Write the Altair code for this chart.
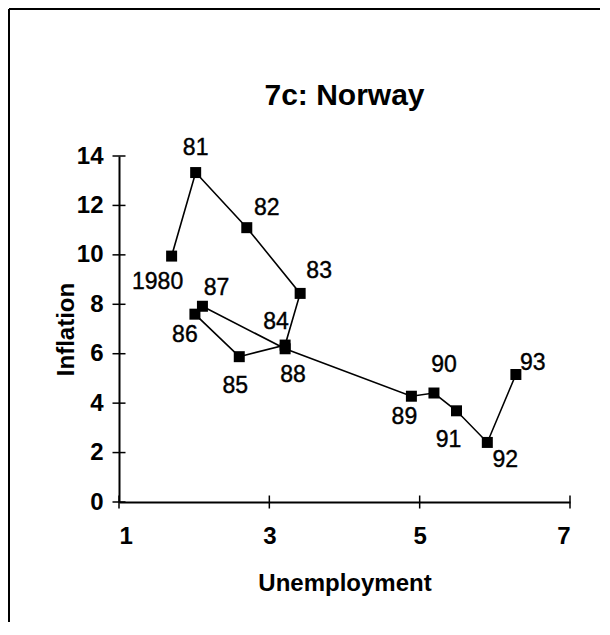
import altair as alt
import pandas as pd

# ---- data ----
years = ["1980", "81", "82", "83", "84", "85", "86", "87", "88", "89", "90", "91", "92", "93"]
unemployment = [1.70, 2.02, 2.70, 3.41, 3.21, 2.60, 2.01, 2.11, 3.21, 4.89, 5.19, 5.49, 5.90, 6.28]
inflation = [9.95, 13.33, 11.10, 8.44, 6.35, 5.88, 7.60, 7.92, 6.20, 4.28, 4.41, 3.69, 2.41, 5.16]
x_ticks = [1, 3, 5, 7]
y_ticks = [0, 2, 4, 6, 8, 10, 12, 14]

# label offsets (style, in pixels) relative to each marker
label_offsets = {
    "1980": (-14, 33), "81": (0, -18), "82": (20, -13), "83": (19, -15),
    "84": (-9, -16), "85": (-4, 36), "86": (-10, 28), "87": (14, -11),
    "88": (8, 33), "89": (-7, 28), "90": (10, -21), "91": (-8, 36),
    "92": (18, 25), "93": (17, -4),
}

FONT = "Liberation Sans"
W, H = 451, 346
PL, PT = 111, 148  # padding to plot origin

df = pd.DataFrame({"idx": list(range(len(years))), "label": years,
                   "u": unemployment, "v": inflation})

xs = alt.Scale(domain=[1, 7], nice=False, zero=False)
ys = alt.Scale(domain=[0, 14], nice=False)

x_enc = alt.X("u:Q", scale=xs, axis=alt.Axis(
    values=x_ticks, format="d", ticks=False, grid=False, labelPadding=22, labelFontSize=24,
    labelFontWeight="bold", labelFont=FONT, labelColor="black",
    domainColor="black", domainWidth=2, domainOpacity=1, title="Unemployment",
    titleFont=FONT, titleFontSize=24, titleFontWeight="bold", titleColor="black",
    titleX=W / 2, titleY=88, titleBaseline="alphabetic", titleAlign="center"))
y_enc = alt.Y("v:Q", scale=ys, axis=alt.Axis(
    values=y_ticks, format="d", ticks=False, grid=False, labelPadding=16, labelFontSize=24,
    labelFontWeight="bold", labelFont=FONT, labelColor="black",
    domainColor="black", domainWidth=2, domainOpacity=1, title="Inflation",
    titleFont=FONT, titleFontSize=24, titleFontWeight="bold", titleColor="black",
    titleX=-53, titleY=H / 2, titleBaseline="middle", titleAlign="center", titleAngle=270))

base = alt.Chart(df)

line = base.mark_line(color="black", strokeWidth=1.6).encode(x=x_enc, y=y_enc, order="idx:Q")
pts = base.mark_point(shape="square", filled=True, size=121, color="black", opacity=1).encode(
    x=alt.X("u:Q", scale=xs), y=alt.Y("v:Q", scale=ys))

labels = []
for lab in years:
    dx, dy = label_offsets[lab]
    labels.append(
        base.transform_filter(alt.datum.label == lab)
        .mark_text(font=FONT, fontSize=23, color="black", align="center",
                   baseline="alphabetic", dx=dx, dy=dy, stroke="black", strokeWidth=0.4)
        .encode(x=alt.X("u:Q", scale=xs), y=alt.Y("v:Q", scale=ys), text="label:N")
    )

xt_df = pd.DataFrame({"u": x_ticks, "v": [0] * len(x_ticks)})
yt_df = pd.DataFrame({"u": [1] * len(y_ticks), "v": y_ticks})
xticks = alt.Chart(xt_df).mark_tick(orient="vertical", size=13, thickness=1.5, color="black",
                                    opacity=1).encode(
    x=alt.X("u:Q", scale=xs), y=alt.Y("v:Q", scale=ys))
yticks = alt.Chart(yt_df).mark_tick(orient="horizontal", size=13, thickness=1.5, color="black",
                                    opacity=1).encode(
    x=alt.X("u:Q", scale=xs), y=alt.Y("v:Q", scale=ys))

one = pd.DataFrame({"a": [0]})
title = alt.Chart(one).mark_text(text="7c: Norway", font=FONT, fontSize=30, fontWeight="bold",
                                 color="black", align="center", baseline="alphabetic").encode(
    x=alt.value(W / 2), y=alt.value(-51))
border_left = alt.Chart(one).mark_rule(color="black", strokeWidth=2).encode(
    x=alt.value(-PL + 1), y=alt.value(-PT + 1), y2=alt.value(H + 200))
border_top = alt.Chart(one).mark_rule(color="black", strokeWidth=2).encode(
    x=alt.value(-PL + 1), x2=alt.value(484), y=alt.value(-PT + 1))

chart = alt.layer(line, pts, xticks, yticks, *labels, title, border_left, border_top).properties(
    width=W, height=H,
    autosize=alt.AutoSizeParams(type="none"),
    padding={"left": PL, "top": PT, "right": 30, "bottom": 120},
).configure(background="white").configure_view(stroke=None)

chart.save("out.html", embed_options={"renderer": "svg", "actions": False})
